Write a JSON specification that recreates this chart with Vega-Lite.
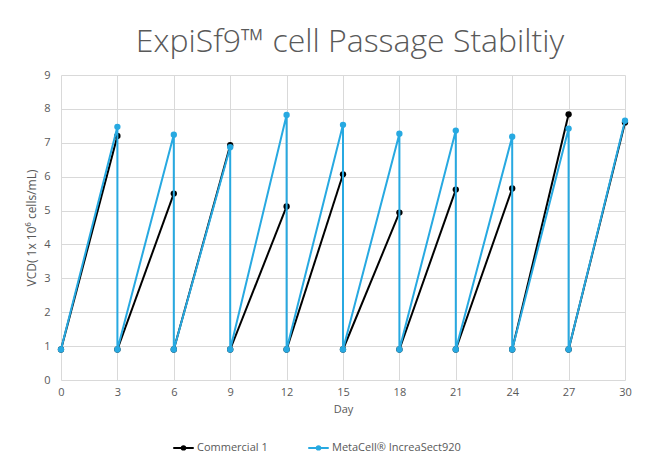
{
  "$schema": "https://vega.github.io/schema/vega-lite/v6.json",
  "width": 564,
  "height": 305,
  "autosize": {"type": "none"},
  "padding": {"left": 61, "top": 75, "right": 25, "bottom": 87},
  "background": "white",
  "title": {
    "text": "ExpiSf9™ cell Passage Stabiltiy",
    "font": "Open Sans",
    "fontSize": 32,
    "fontWeight": 300,
    "color": "#595959",
    "anchor": "middle",
    "dx": 7,
    "offset": 10
  },
  "data": {
    "values": [
      {"series": "Commercial 1", "passage": 1, "ord": 1, "day": 0, "vcd": 0.9},
      {"series": "Commercial 1", "passage": 1, "ord": 2, "day": 3, "vcd": 7.2},
      {"series": "Commercial 1", "passage": 2, "ord": 3, "day": 3, "vcd": 0.9},
      {"series": "Commercial 1", "passage": 2, "ord": 4, "day": 6, "vcd": 5.5},
      {"series": "Commercial 1", "passage": 3, "ord": 5, "day": 6, "vcd": 0.9},
      {"series": "Commercial 1", "passage": 3, "ord": 6, "day": 9, "vcd": 6.93},
      {"series": "Commercial 1", "passage": 4, "ord": 7, "day": 9, "vcd": 0.9},
      {"series": "Commercial 1", "passage": 4, "ord": 8, "day": 12, "vcd": 5.12},
      {"series": "Commercial 1", "passage": 5, "ord": 9, "day": 12, "vcd": 0.9},
      {"series": "Commercial 1", "passage": 5, "ord": 10, "day": 15, "vcd": 6.07},
      {"series": "Commercial 1", "passage": 6, "ord": 11, "day": 15, "vcd": 0.9},
      {"series": "Commercial 1", "passage": 6, "ord": 12, "day": 18, "vcd": 4.94},
      {"series": "Commercial 1", "passage": 7, "ord": 13, "day": 18, "vcd": 0.9},
      {"series": "Commercial 1", "passage": 7, "ord": 14, "day": 21, "vcd": 5.62},
      {"series": "Commercial 1", "passage": 8, "ord": 15, "day": 21, "vcd": 0.9},
      {"series": "Commercial 1", "passage": 8, "ord": 16, "day": 24, "vcd": 5.65},
      {"series": "Commercial 1", "passage": 9, "ord": 17, "day": 24, "vcd": 0.9},
      {"series": "Commercial 1", "passage": 9, "ord": 18, "day": 27, "vcd": 7.84},
      {"series": "Commercial 1", "passage": 10, "ord": 19, "day": 27, "vcd": 0.9},
      {"series": "Commercial 1", "passage": 10, "ord": 20, "day": 30, "vcd": 7.6},
      {"series": "MetaCell® IncreaSect920", "passage": 1, "ord": 1, "day": 0, "vcd": 0.9},
      {"series": "MetaCell® IncreaSect920", "passage": 1, "ord": 2, "day": 3, "vcd": 7.47},
      {"series": "MetaCell® IncreaSect920", "passage": 2, "ord": 3, "day": 3, "vcd": 0.9},
      {"series": "MetaCell® IncreaSect920", "passage": 2, "ord": 4, "day": 6, "vcd": 7.24},
      {"series": "MetaCell® IncreaSect920", "passage": 3, "ord": 5, "day": 6, "vcd": 0.9},
      {"series": "MetaCell® IncreaSect920", "passage": 3, "ord": 6, "day": 9, "vcd": 6.87},
      {"series": "MetaCell® IncreaSect920", "passage": 4, "ord": 7, "day": 9, "vcd": 0.9},
      {"series": "MetaCell® IncreaSect920", "passage": 4, "ord": 8, "day": 12, "vcd": 7.82},
      {"series": "MetaCell® IncreaSect920", "passage": 5, "ord": 9, "day": 12, "vcd": 0.9},
      {"series": "MetaCell® IncreaSect920", "passage": 5, "ord": 10, "day": 15, "vcd": 7.53},
      {"series": "MetaCell® IncreaSect920", "passage": 6, "ord": 11, "day": 15, "vcd": 0.9},
      {"series": "MetaCell® IncreaSect920", "passage": 6, "ord": 12, "day": 18, "vcd": 7.27},
      {"series": "MetaCell® IncreaSect920", "passage": 7, "ord": 13, "day": 18, "vcd": 0.9},
      {"series": "MetaCell® IncreaSect920", "passage": 7, "ord": 14, "day": 21, "vcd": 7.36},
      {"series": "MetaCell® IncreaSect920", "passage": 8, "ord": 15, "day": 21, "vcd": 0.9},
      {"series": "MetaCell® IncreaSect920", "passage": 8, "ord": 16, "day": 24, "vcd": 7.18},
      {"series": "MetaCell® IncreaSect920", "passage": 9, "ord": 17, "day": 24, "vcd": 0.9},
      {"series": "MetaCell® IncreaSect920", "passage": 9, "ord": 18, "day": 27, "vcd": 7.42},
      {"series": "MetaCell® IncreaSect920", "passage": 10, "ord": 19, "day": 27, "vcd": 0.9},
      {"series": "MetaCell® IncreaSect920", "passage": 10, "ord": 20, "day": 30, "vcd": 7.65}
    ]
  },
  "encoding": {
    "x": {
      "field": "day",
      "type": "quantitative",
      "scale": {"domain": [0, 30], "nice": false, "zero": true},
      "axis": {
        "title": "Day",
        "values": [0, 3, 6, 9, 12, 15, 18, 21, 24, 27, 30],
        "grid": true,
        "gridColor": "#d9d9d9",
        "domain": false,
        "ticks": false,
        "labelFlush": false,
        "labelPadding": 6,
        "titlePadding": 6
      }
    },
    "y": {
      "field": "vcd",
      "type": "quantitative",
      "scale": {"domain": [0, 9], "nice": false},
      "axis": {
        "title": "VCD( 1x 10⁶ cells/mL)",
        "values": [0, 1, 2, 3, 4, 5, 6, 7, 8, 9],
        "grid": true,
        "gridColor": "#d9d9d9",
        "domain": false,
        "ticks": false,
        "labelFlush": false,
        "labelPadding": 11,
        "titlePadding": 5,
        "titleFontSize": 12
      }
    },
    "color": {
      "field": "series",
      "type": "nominal",
      "scale": {"domain": ["Commercial 1", "MetaCell® IncreaSect920"], "range": ["#000000", "#27A9E1"]},
      "legend": {
        "title": null,
        "orient": "none",
        "direction": "horizontal",
        "legendX": 111,
        "legendY": 361,
        "symbolType": "M-1,0L1,0M-0.17,0A0.17,0.17,0,1,1,0.17,0A0.17,0.17,0,1,1,-0.17,0Z",
        "symbolSize": 420,
        "symbolStrokeWidth": 2,
        "labelOffset": 2,
        "columnPadding": 36,
        "encode": {"symbols": {"update": {"fill": {"scale": "color", "field": "value"}}}}
      }
    },
    "order": {"field": "ord", "type": "quantitative"}
  },
  "layer": [
    {
      "transform": [{"filter": "datum.series === 'Commercial 1'"}],
      "mark": {"type": "line", "strokeWidth": 2, "point": {"filled": true, "size": 40, "opacity": 1}},
      "encoding": {"detail": {"field": "passage", "type": "nominal"}}
    },
    {
      "transform": [{"filter": "datum.series !== 'Commercial 1'"}],
      "mark": {"type": "line", "strokeWidth": 2, "point": {"filled": true, "size": 40, "opacity": 1}}
    }
  ],
  "config": {
    "font": "Open Sans",
    "view": {"stroke": null},
    "axis": {
      "labelFont": "Open Sans",
      "labelFontSize": 11,
      "labelColor": "#595959",
      "titleFont": "Open Sans",
      "titleFontSize": 11,
      "titleFontWeight": "normal",
      "titleColor": "#595959"
    },
    "legend": {
      "labelFont": "Open Sans",
      "labelFontSize": 11,
      "labelColor": "#595959"
    }
  }
}
